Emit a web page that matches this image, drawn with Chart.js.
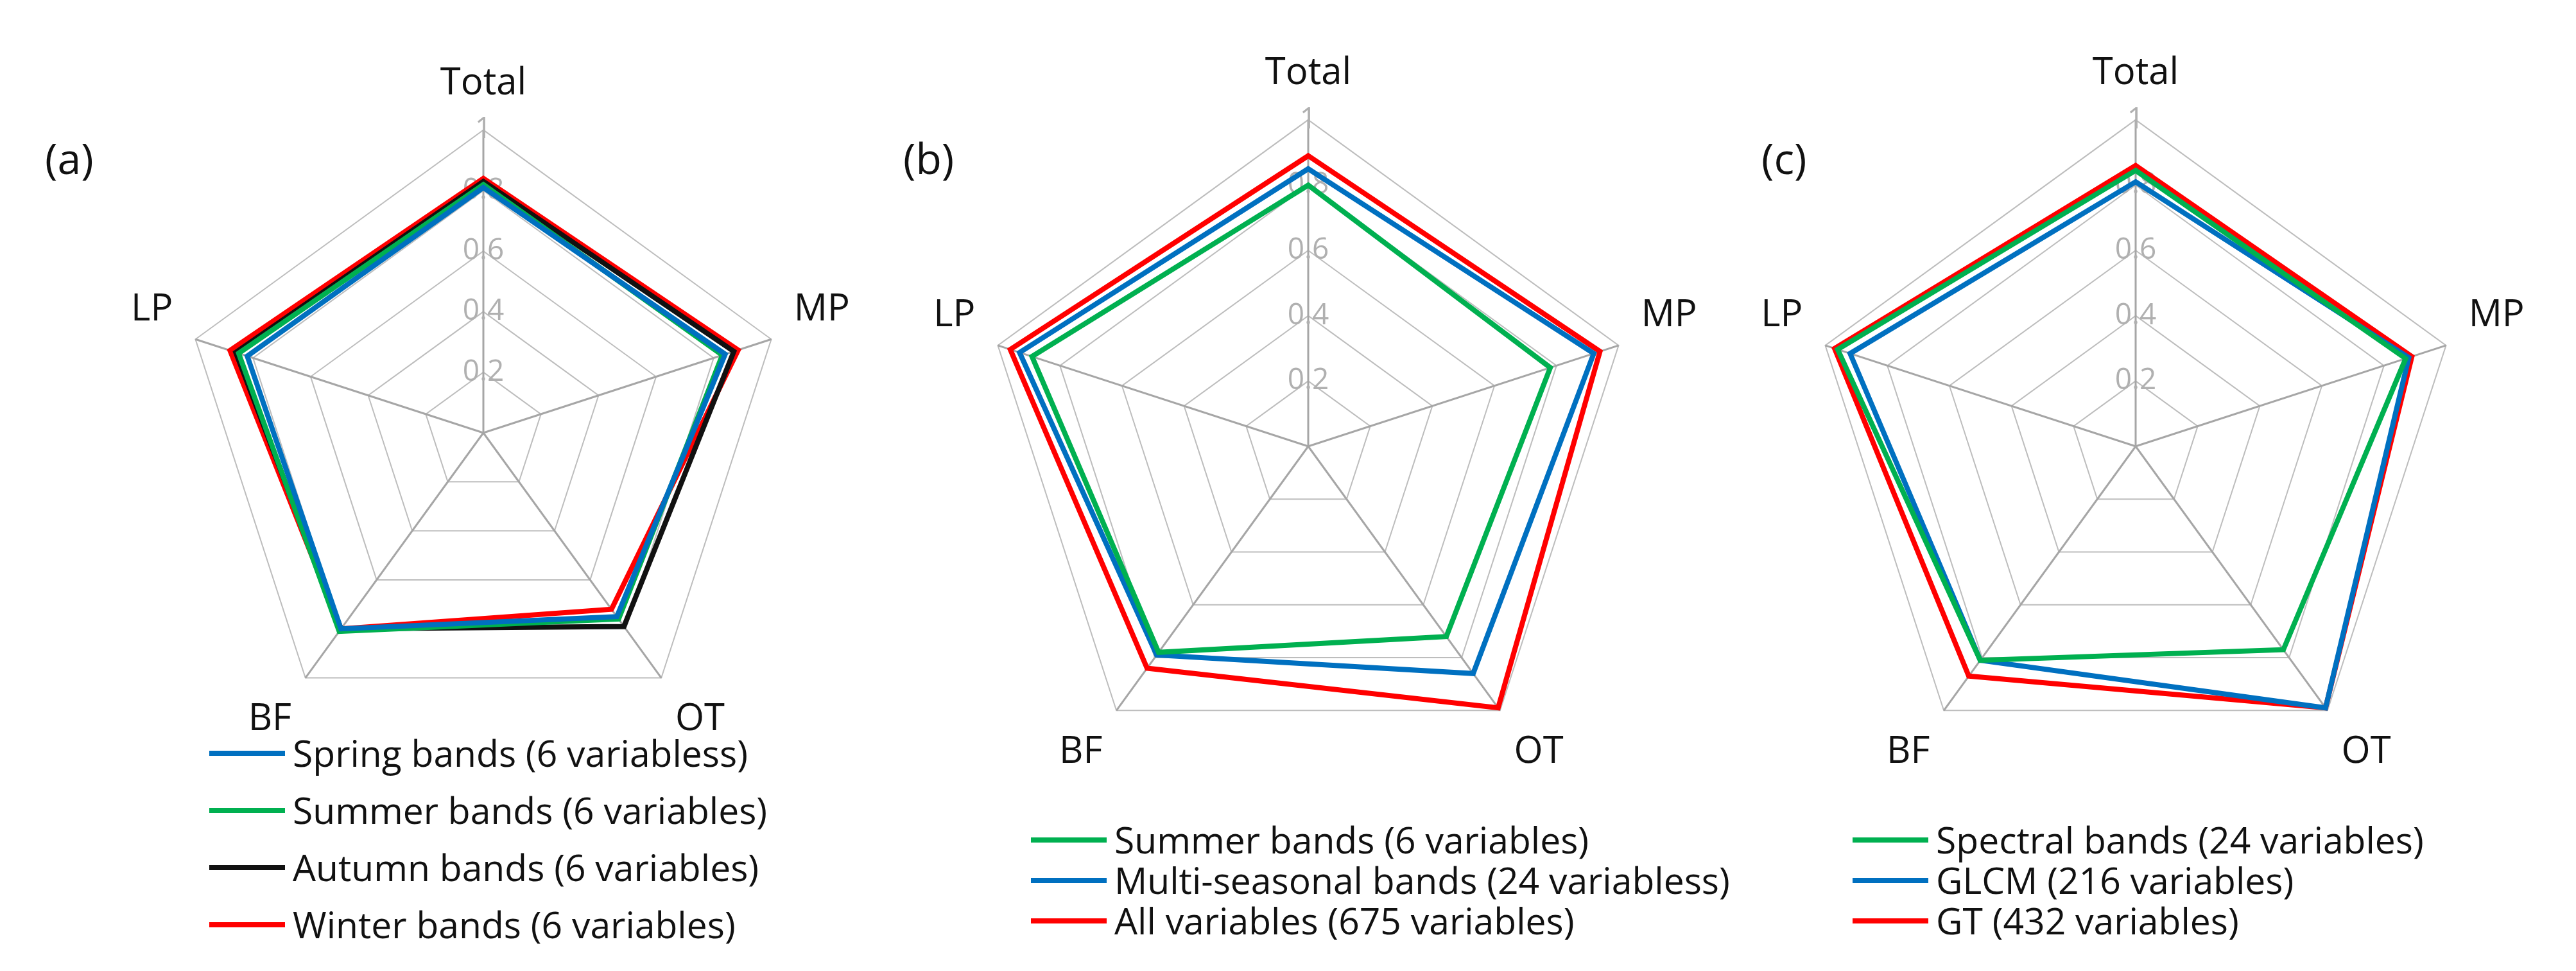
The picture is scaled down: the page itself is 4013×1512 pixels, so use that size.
<!DOCTYPE html>
<html>
<head>
<meta charset="utf-8">
<script src="https://cdn.jsdelivr.net/npm/chart.js@4"></script>
<style>
    body { margin: 0; width: 4013px; height: 1512px; background: #fff; font-family: "Open Sans", Arial, sans-serif; overflow: hidden; }
    .panel { position: absolute; top: 0; width: 1337px; height: 1512px; }
    .panel canvas { position: absolute; left: 0; top: 0; }
    .tag { position: absolute; left: 70px; top: 200px; font-size: 66px; color: #111; }
    .legend { position: absolute; font-size: 57px; color: #111; }
    .legend div { display: flex; align-items: center; white-space: nowrap; }
    .legend span.ln { display: inline-block; width: 118px; height: 8px; margin-right: 12px; }
</style>
</head>
<body>
<div class="panel" style="left:0"><canvas id="ca" width="1337" height="1270"></canvas><div class="tag">(a)</div><div class="legend" id="la" style="left:326px;top:1128px;line-height:89px"></div></div>
<div class="panel" style="left:1337px"><canvas id="cb" width="1337" height="1270"></canvas><div class="tag">(b)</div><div class="legend" id="lb" style="left:269px;top:1276px;line-height:63px"></div></div>
<div class="panel" style="left:2674px"><canvas id="cc" width="1337" height="1270"></canvas><div class="tag">(c)</div><div class="legend" id="lc" style="left:212px;top:1276px;line-height:63px"></div></div>
<script>
const categories = ["Total", "MP", "OT", "BF", "LP"];
const ticks = [0, 0.2, 0.4, 0.6, 0.8, 1];

const colors = {
    blue: "#0070c0",
    green: "#00b050",
    black: "#111111",
    red: "#ff0000",
};

// (a) seasonal bands
const springA = [0.81, 0.84, 0.75, 0.80, 0.82];
const summerA = [0.82, 0.83, 0.76, 0.81, 0.85];
const autumnA = [0.83, 0.87, 0.79, 0.80, 0.86];
const winterA = [0.84, 0.885, 0.72, 0.80, 0.88];

// (b)
const summerB = [0.80, 0.78, 0.72, 0.78, 0.89];
const multiB = [0.85, 0.92, 0.86, 0.79, 0.93];
const allB = [0.89, 0.94, 0.99, 0.84, 0.96];

// (c)
const spectralC = [0.845, 0.87, 0.77, 0.81, 0.96];
const glcmC = [0.81, 0.88, 0.99, 0.81, 0.92];
const gtC = [0.86, 0.89, 0.99, 0.87, 0.97];

function makeDataset(label, color, data) {
    return {
        label: label,
        data: data,
        borderColor: color,
        backgroundColor: "transparent",
        borderWidth: 8,
        pointRadius: 0,
        fill: false,
    };
}

function newRadar(id, datasets, padLeft, padRight) {
    return new Chart(document.getElementById(id), {
        type: "radar",
        data: { labels: categories, datasets: datasets },
        options: {
            responsive: false,
            animation: false,
            layout: { padding: { top: 40, bottom: 0, left: padLeft, right: padRight } },
            plugins: { legend: { display: false }, tooltip: { enabled: false } },
            scales: {
                r: {
                    min: 0,
                    max: 1,
                    afterBuildTicks: (axis) => { axis.ticks = ticks.map(v => ({ value: v })); },
                    ticks: {
                        color: "#b0b0b0",
                        backdropColor: "rgba(0,0,0,0)",
                        font: { size: 46, family: "Open Sans" },
                        callback: (v) => String(v),
                    },
                    grid: { color: "#bdbdbd", lineWidth: 2, borderDash: [3, 3] },
                    angleLines: { color: "#a6a6a6", lineWidth: 3 },
                    pointLabels: { color: "#111", font: { size: 58, family: "Open Sans" }, padding: 12 },
                },
            },
        },
    });
}

function legend(id, datasets) {
    document.getElementById(id).innerHTML = datasets.map(d =>
        `<div><span class="ln" style="background:${d.borderColor}"></span>${d.label}</div>`).join("");
}

const dsA = [
    makeDataset("Spring bands (6 variabless)", colors.blue, springA),
    makeDataset("Summer bands (6 variables)", colors.green, summerA),
    makeDataset("Autumn bands (6 variables)", colors.black, autumnA),
    makeDataset("Winter bands (6 variables)", colors.red, winterA),
];
const dsB = [
    makeDataset("Summer bands (6 variables)", colors.green, summerB),
    makeDataset("Multi-seasonal bands (24 variabless)", colors.blue, multiB),
    makeDataset("All variables (675 variables)", colors.red, allB),
];
const dsC = [
    makeDataset("Spectral bands (24 variables)", colors.green, spectralC),
    makeDataset("GLCM (216 variables)", colors.blue, glcmC),
    makeDataset("GT (432 variables)", colors.red, gtC),
];

newRadar("ca", dsA, 193, 0);
newRadar("cb", dsB, 89, 0);
newRadar("cc", dsC, 0, 9);
legend("la", dsA);
legend("lb", dsB);
legend("lc", dsC);
</script>
</body>
</html>
